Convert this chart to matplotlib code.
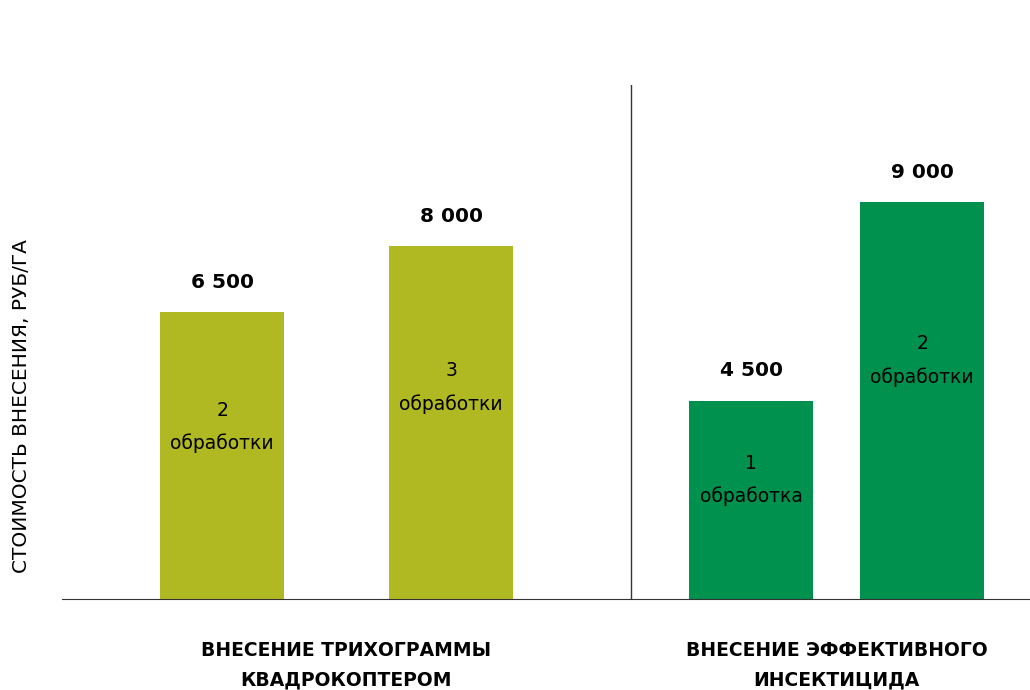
import matplotlib.pyplot as plt

plt.rcParams['font.family'] = ['DejaVu Sans']

# данные
values = [6500, 8000, 4500, 9000]
value_labels = ['6 500', '8 000', '4 500', '9 000']
inner_labels = ['2\nобработки', '3\nобработки', '1\nобработка', '2\nобработки']
groups = ['ВНЕСЕНИЕ ТРИХОГРАММЫ\nКВАДРОКОПТЕРОМ', 'ВНЕСЕНИЕ ЭФФЕКТИВНОГО\nИНСЕКТИЦИДА']
y_title = 'СТОИМОСТЬ ВНЕСЕНИЯ, РУБ/ГА'

positions = [0, 1, 2.31, 3.057]
colors = ['#b1b922', '#b1b922', '#00914f', '#00914f']

fig = plt.figure(figsize=(10.3, 6.9), dpi=100)
ax = fig.add_axes([62 / 1030, 91 / 690, 1 - 62 / 1030, 514 / 690])

bars = ax.bar(positions, values, width=0.54, color=colors)

ax.set_xlim(-0.699, 3.528)
ax.set_ylim(0, 11655)

# подписи значений над столбцами
for bar, lab in zip(bars, value_labels):
    ax.annotate(lab, (bar.get_x() + bar.get_width() / 2, bar.get_height()),
                xytext=(0, 21.5), textcoords='offset points',
                ha='center', va='center', fontsize=14.5, fontweight='heavy', color='black')

# подписи внутри столбцов
for bar, lab in zip(bars, inner_labels):
    ax.text(bar.get_x() + bar.get_width() / 2, bar.get_height() * 0.6, lab,
            ha='center', va='center', fontsize=13.5, linespacing=1.9, color='black')

# разделитель
ax.axvline(1.786, color='#333333', linewidth=1)

# подписи групп
ax.text((positions[0] + positions[1]) / 2 + 0.04, -0.082, groups[0], transform=ax.get_xaxis_transform(),
        ha='center', va='top', fontsize=13.5, fontweight='bold', linespacing=1.72)
ax.text((positions[2] + positions[3]) / 2, -0.082, groups[1], transform=ax.get_xaxis_transform(),
        ha='center', va='top', fontsize=13.5, fontweight='bold', linespacing=1.72)

for s in ['top', 'right', 'left']:
    ax.spines[s].set_visible(False)
ax.spines['bottom'].set_color('#333333')
ax.set_xticks([])
ax.set_yticks([])

fig.text(22 / 1030, 1 - 406 / 690, y_title, rotation=90, ha='center', va='center', fontsize=14.5)

fig.savefig('out.png', dpi=100)
